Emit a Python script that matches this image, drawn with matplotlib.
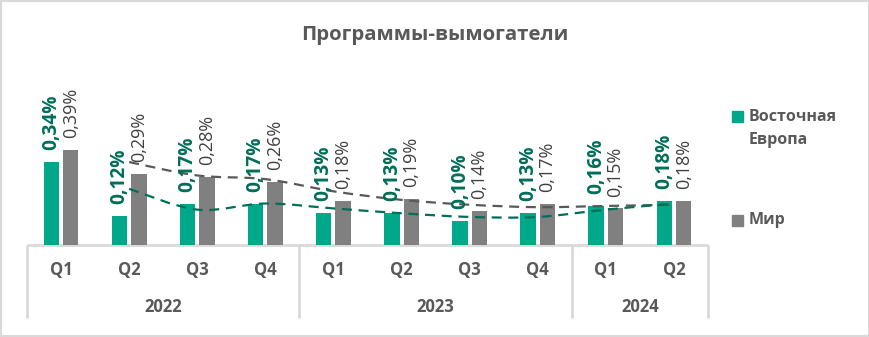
import matplotlib
matplotlib.use("Agg")
import matplotlib.pyplot as plt
from matplotlib.patches import Rectangle, PathPatch
from matplotlib.path import Path
import numpy as np

plt.rcParams['font.family'] = ['Open Sans', 'DejaVu Sans']

# Data
quarters = ["Q1", "Q2", "Q3", "Q4", "Q1", "Q2", "Q3", "Q4", "Q1", "Q2"]
years = ["2022", "2023", "2024"]
year_sizes = [4, 4, 2]
east_europe = [0.34, 0.12, 0.17, 0.17, 0.13, 0.13, 0.10, 0.13, 0.16, 0.18]
world = [0.39, 0.29, 0.28, 0.26, 0.18, 0.19, 0.14, 0.17, 0.15, 0.18]
series_names = ["Восточная\nЕвропа", "Мир"]
title = "Программы-вымогатели"

GREEN = "#00A88A"
GREEN_DARK = "#006E58"
GRAY = "#808080"
GRAY_LABEL = "#404040"
TEXT = "#595959"
AXIS = "#D9D9D9"

W, H = 870, 337
DPI = 100
fig = plt.figure(figsize=(W / DPI, H / DPI), dpi=DPI)


def px(x, y):
    """Figure fraction from pixel coords measured from the top-left corner."""
    return x / W, 1 - y / H


# plot area
left, right, base, top = 27, 708, 245, 99
ax = fig.add_axes([left / W, (H - base) / H, (right - left) / W, (base - top) / H])
ymax = (base - top) / 244.0
ax.set_ylim(0, ymax)
n = len(quarters)
ax.set_xlim(-0.5, n - 0.5)
for s in ax.spines.values():
    s.set_visible(False)
ax.set_yticks([])
ax.set_xticks([])

x = np.arange(n)
bw = 0.225
gap = 0.03
xe = x - bw / 2 - gap
xw = x + bw / 2 + gap
ax.bar(xe, east_europe, bw, color=GREEN, zorder=2)
ax.bar(xw, world, bw, color=GRAY, zorder=2)


def fmt(v):
    return f"{v:.2f}%".replace(".", ",")


for xi, v in zip(xe, east_europe):
    ax.annotate(fmt(v), (xi, v), xytext=(0, 8.5), textcoords="offset points",
                rotation=90, ha="center", va="bottom", fontsize=13.8,
                fontweight="bold", color=GREEN_DARK, zorder=4)
for xi, v in zip(xw, world):
    ax.annotate(fmt(v), (xi, v), xytext=(0, 8.5), textcoords="offset points",
                rotation=90, ha="center", va="bottom", fontsize=13,
                color=GRAY_LABEL, zorder=4)


def moving_average(vals, period=2):
    return [sum(vals[i - period + 1:i + 1]) / period for i in range(period - 1, len(vals))]


def smooth_path(xs, ys):
    pts = np.column_stack([xs, ys])
    verts = [pts[0]]
    codes = [Path.MOVETO]
    m = len(pts)
    for i in range(m - 1):
        p0 = pts[i - 1] if i > 0 else pts[i]
        p1 = pts[i]
        p2 = pts[i + 1]
        p3 = pts[i + 2] if i + 2 < m else pts[i + 1]
        c1 = p1 + (p2 - p0) / 6.0
        c2 = p2 - (p3 - p1) / 6.0
        verts += [c1, c2, p2]
        codes += [Path.CURVE4] * 3
    return Path(verts, codes)


for vals, col in ((world, "#595959"), (east_europe, GREEN_DARK)):
    ma = moving_average(vals)
    path = smooth_path(x[1:], ma)
    ax.add_patch(PathPatch(path, fill=False, edgecolor=col, lw=1.6,
                           linestyle=(0, (4.5, 3)), zorder=3))

# category axis (two levels)
trans = ax.get_xaxis_transform()
axis_h = 73 / (base - top)
ax.plot([-0.5, n - 0.5], [0, 0], transform=trans, color=AXIS, lw=2,
        clip_on=False, zorder=1, solid_capstyle="butt")
bounds = np.cumsum([0] + year_sizes) - 0.5
for b in bounds:
    ax.plot([b, b], [0, -axis_h], transform=trans, color=AXIS, lw=2,
            clip_on=False, solid_capstyle="butt")
q_y = -25 / (base - top)
y_y = -62 / (base - top)
for xi, q in zip(x, quarters):
    ax.text(xi, q_y, q, transform=trans, ha="center", va="center",
            fontsize=12, fontweight="bold", color=TEXT)
for i, yr in enumerate(years):
    ax.text((bounds[i] + bounds[i + 1]) / 2, y_y, yr, transform=trans,
            ha="center", va="center", fontsize=12, fontweight="bold", color=TEXT)

# title
fig.text(*px(435, 35), title, ha="center", va="center", fontsize=14.7,
         fontweight="bold", color=TEXT)

# legend
for (ly, name, col) in ((128.5, series_names[0], GREEN), (220, series_names[1], GRAY)):
    sq_y = ly - 11.5 if "\n" in name else ly
    fig.patches.append(Rectangle(px(732, sq_y + 5.5), 11 / W, 11 / H,
                                 transform=fig.transFigure, color=col))
    fig.text(*px(749, ly), name, ha="left", va="center",
             fontsize=11.5, fontweight="bold", color=TEXT, linespacing=1.6,
             transform=fig.transFigure)

# outer frame
fig.patches.append(Rectangle((1 / W, 1 / H), (W - 2) / W, (H - 2) / H,
                             transform=fig.transFigure, fill=False,
                             edgecolor=AXIS, lw=1.5))

fig.savefig("out.png", dpi=DPI)
